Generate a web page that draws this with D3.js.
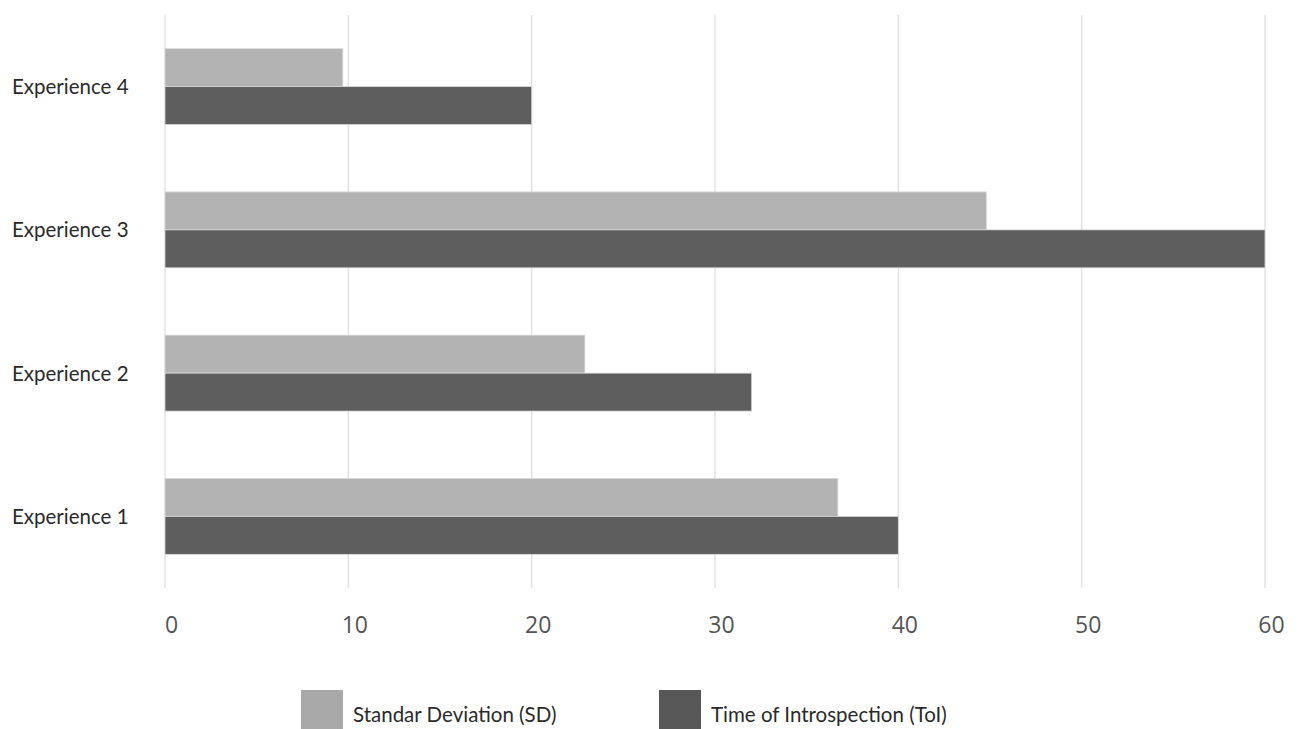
<!DOCTYPE html>
<html>
<head>
<meta charset="utf-8">
<script src="https://cdn.jsdelivr.net/npm/d3@7"></script>
<style>
  html, body { margin: 0; padding: 0; background: #ffffff; }
  svg { display: block; }
</style>
</head>
<body>
<svg id="chart" width="1298" height="729"></svg>
<script>
// Categories, top to bottom
const categories = ["Experience 4", "Experience 3", "Experience 2", "Experience 1"];
// Series
const seriesNames = ["Standar Deviation (SD)", "Time of Introspection (ToI)"];
const sdValues  = [9.7, 44.8, 22.9, 36.7];
const toiValues = [20, 60, 32, 40];
const xTicks = [0, 10, 20, 30, 40, 50, 60];

const barColors = ["#b3b3b3", "#5e5e5e"];
const legendColors = ["#a8a8a8", "#575757"];

const svg = d3.select("#chart");
const plotLeft = 165, plotRight = 1265, plotTop = 15, plotBottom = 588;

const x = d3.scaleLinear().domain([0, 60]).range([plotLeft, plotRight]);
const y = d3.scaleBand().domain(categories).range([plotTop, plotBottom])
  .paddingInner(0.47).paddingOuter(0.235);
const ySub = d3.scaleBand().domain(seriesNames).range([0, y.bandwidth()]);

// Vertical gridlines
svg.append("g").selectAll("line").data(xTicks).join("line")
  .attr("x1", d => x(d)).attr("x2", d => x(d))
  .attr("y1", plotTop).attr("y2", plotBottom)
  .attr("stroke", "#e3e3e3").attr("stroke-width", 1.5);

// Bars
const rows = categories.map((c, i) => ({ cat: c, vals: [sdValues[i], toiValues[i]] }));
const groups = svg.append("g").selectAll("g").data(rows).join("g")
  .attr("transform", d => `translate(0,${y(d.cat)})`);
groups.selectAll("rect").data(d => d.vals.map((v, j) => ({ v, s: seriesNames[j], j })))
  .join("rect")
  .attr("x", x(0))
  .attr("y", d => ySub(d.s))
  .attr("width", d => x(d.v) - x(0))
  .attr("height", ySub.bandwidth())
  .attr("fill", d => barColors[d.j])
  .attr("stroke", "#d9d9d9")
  .attr("stroke-width", 0.8);

// X axis tick labels
const xAxis = d3.axisBottom(x).tickValues(xTicks).tickSize(0).tickPadding(0);
const gx = svg.append("g").attr("transform", `translate(0,${plotBottom})`).call(xAxis);
gx.select(".domain").remove();
gx.selectAll("text")
  .attr("dx", 6).attr("y", 45).attr("dy", 0)
  .attr("font-family", "'Open Sans', sans-serif")
  .attr("font-size", 23)
  .attr("fill", "#555555");

// Category labels
svg.append("g").selectAll("text").data(categories).join("text")
  .attr("x", 12)
  .attr("y", d => y(d) + y.bandwidth() / 2)
  .attr("dy", "0.36em")
  .attr("font-family", "Lato, sans-serif")
  .attr("font-size", 20.5)
  .attr("fill", "#2b2b2b")
  .text(d => d);

// Legend
const legendX = [301, 659];
const legend = svg.append("g").selectAll("g").data(seriesNames).join("g")
  .attr("transform", (d, i) => `translate(${legendX[i]},690)`);
legend.append("rect")
  .attr("width", 42).attr("height", 42)
  .attr("fill", (d, i) => legendColors[i]);
legend.append("text")
  .attr("x", 52).attr("y", 32)
  .attr("font-family", "Lato, sans-serif")
  .attr("font-size", 20.5)
  .attr("fill", "#2b2b2b")
  .text(d => d);
</script>
</body>
</html>
